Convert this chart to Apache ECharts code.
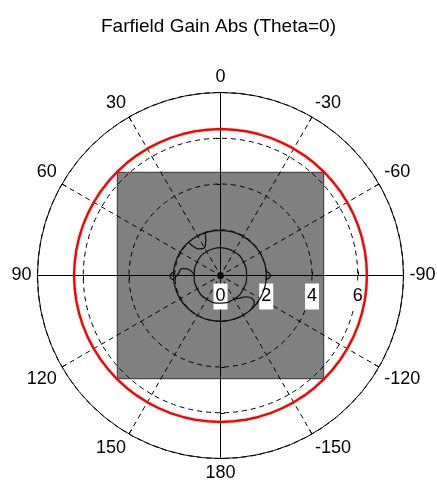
<!DOCTYPE html>
<html>
<head>
<meta charset="utf-8">
<script src="https://cdn.jsdelivr.net/npm/echarts@6/dist/echarts.min.js"></script>
<style>
  html, body { margin: 0; padding: 0; background: #fff; }
  #chart { width: 437px; height: 484px; }
</style>
</head>
<body>
<div id="chart"></div>
<script>
// Farfield polar plot: gain versus phi, 0 at the top, angles counted counter-clockwise.
const titleText = 'Farfield Gain Abs (Theta=0)';

// Angle axis ticks (degrees) and radius axis ticks (gain)
const angleTickStep = 30;
const radiusTicks = [0, 2, 4, 6, 8];

// Main gain trace (constant over phi), sampled every 5 degrees
const gainAngles = [0, 5, 10, 15, 20, 25, 30, 35, 40, 45, 50, 55, 60, 65, 70, 75, 80, 85, 90,
                    95, 100, 105, 110, 115, 120, 125, 130, 135, 140, 145, 150, 155, 160, 165, 170, 175, 180,
                    185, 190, 195, 200, 205, 210, 215, 220, 225, 230, 235, 240, 245, 250, 255, 260, 265, 270,
                    275, 280, 285, 290, 295, 300, 305, 310, 315, 320, 325, 330, 335, 340, 345, 350, 355, 360];
const gainValues = [6.4, 6.4, 6.4, 6.4, 6.4, 6.4, 6.4, 6.4, 6.4, 6.4, 6.4, 6.4, 6.4, 6.4, 6.4, 6.4, 6.4, 6.4, 6.4,
                    6.4, 6.4, 6.4, 6.4, 6.4, 6.4, 6.4, 6.4, 6.4, 6.4, 6.4, 6.4, 6.4, 6.4, 6.4, 6.4, 6.4, 6.4,
                    6.4, 6.4, 6.4, 6.4, 6.4, 6.4, 6.4, 6.4, 6.4, 6.4, 6.4, 6.4, 6.4, 6.4, 6.4, 6.4, 6.4, 6.4,
                    6.4, 6.4, 6.4, 6.4, 6.4, 6.4, 6.4, 6.4, 6.4, 6.4, 6.4, 6.4, 6.4, 6.4, 6.4, 6.4, 6.4, 6.4];

// Shaded square region (corner angles and corner radius)
const squareAngles = [45, 135, 225, 315, 45];
const squareRadius = [6.38, 6.38, 6.38, 6.38, 6.38];

// Inner trace
const innerAngles = [0, 30, 60, 90, 120, 150, 180, 210, 240, 270, 300, 330, 360];
const innerValues = [1.22, 1.21, 1.18, 1.15, 1.17, 1.2, 1.21, 1.19, 1.16, 1.14, 1.17, 1.2, 1.22];

// Outer ring trace
const ringAngles = [0, 15, 30, 45, 60, 75, 90, 105, 120, 135, 150, 165, 180,
                    195, 210, 225, 240, 255, 270, 285, 300, 315, 330, 345, 360];
const ringValues = [1.97, 1.98, 2.0, 2.02, 2.04, 2.05, 2.06, 2.05, 2.04, 2.03, 2.02, 2.01, 2.0,
                    2.0, 2.0, 2.0, 2.0, 2.0, 2.01, 2.0, 1.99, 1.98, 1.97, 1.97, 1.97];

// Side lobes / loops of the outer trace
const loopAAngles = [20, 22, 26, 32, 39, 43, 44];
const loopAValues = [2.0, 1.72, 1.5, 1.4, 1.5, 1.75, 2.02];
const loopBAngles = [93, 88, 80, 79, 83, 89];
const loopBValues = [2.02, 1.85, 1.72, 1.5, 1.25, 1.14];
const loopCAngles = [86, 88, 91, 94, 95];
const loopCValues = [2.05, 2.16, 2.2, 2.14, 2.05];
const loopDAngles = [265, 267, 270, 273, 275];
const loopDValues = [2.0, 2.12, 2.18, 2.12, 2.0];
const loopEAngles = [212, 220, 230, 234, 231, 223];
const loopEValues = [1.2, 1.3, 1.45, 1.7, 1.9, 1.98];
const centerAngles = [0, 60, 120, 180, 240, 300, 360];
const centerValues = [0.12, 0.12, 0.12, 0.12, 0.12, 0.12, 0.12];

const font = '"Liberation Sans", Arial, sans-serif';
const fontSize = 18;
const center = [220.5, 275.5];
const radius = 183;
const dash = [5, 4];

function pairs(angles, values) {
  return angles.map((a, i) => [values[i], a]);
}

function angleLabel(v) {
  if (v >= 360) return '';
  return String(v > 180 ? v - 360 : v);
}

const solidAxis = { show: true, lineStyle: { color: '#000', width: 1 } };
const radialTick = { show: true, length: 4, lineStyle: { color: '#000' } };

// Four radius axes make the full solid cross; the first polar holds all data
const startAngles = [90, 0, 180, 270];
const polar = startAngles.map(() => ({ center: center, radius: radius }));
const angleAxis = startAngles.map((s, i) => i === 0 ? {
  polarIndex: 0, type: 'value', min: 0, max: 360, interval: angleTickStep,
  startAngle: s, clockwise: false,
  axisLine: solidAxis,
  axisTick: { show: true, inside: true, length: 5, lineStyle: { color: '#000' } },
  axisLabel: { margin: 6, fontSize: fontSize, fontFamily: font, color: '#000', formatter: angleLabel },
  splitLine: { show: true, lineStyle: { color: '#000', width: 1, type: dash } }
} : {
  polarIndex: i, type: 'value', min: 0, max: 360, startAngle: s, show: false
});
const radiusAxis = startAngles.map((s, i) => ({
  polarIndex: i, type: 'value', min: radiusTicks[0], max: radiusTicks[radiusTicks.length - 1],
  interval: radiusTicks[1] - radiusTicks[0],
  axisLine: solidAxis,
  axisTick: radialTick,
  axisLabel: i === 1 ? {
    show: true, showMaxLabel: false, margin: -8, verticalAlign: 'top',
    fontSize: fontSize, fontFamily: font, color: '#000',
    backgroundColor: '#fff', padding: [4, 2], lineHeight: 18
  } : { show: false },
  splitLine: i === 0 ? { show: true, lineStyle: { color: '#000', width: 1, type: dash } } : { show: false },
  splitArea: { show: false }
}));

function trace(angles, values, extra) {
  return Object.assign({
    type: 'line', coordinateSystem: 'polar', polarIndex: 0,
    data: pairs(angles, values), symbol: 'none', silent: true,
    lineStyle: { color: '#111', width: 1.3 }, z: 4
  }, extra || {});
}

const series = [
  trace(squareAngles, squareRadius, {
    lineStyle: { color: '#333', width: 1 },
    areaStyle: { color: '#808080', opacity: 1 }, z: -1
  }),
  trace(gainAngles, gainValues, { lineStyle: { color: '#ff0000', width: 2.5 }, z: 5 }),
  trace(innerAngles, innerValues, { smooth: true }),
  trace(ringAngles, ringValues, { smooth: true }),
  trace(loopAAngles, loopAValues, { smooth: true }),
  trace(loopBAngles, loopBValues, { smooth: true }),
  trace(loopCAngles, loopCValues, { smooth: true }),
  trace(loopDAngles, loopDValues, { smooth: true }),
  trace(loopEAngles, loopEValues, { smooth: true }),
  trace(centerAngles, centerValues, { smooth: true, lineStyle: { color: '#000', width: 1.5 } })
];

const chart = echarts.init(document.getElementById('chart'), null, { renderer: 'canvas' });
chart.setOption({
  animation: false,
  backgroundColor: '#fff',
  title: {
    text: titleText, left: 'center', top: 12,
    textStyle: { fontFamily: font, fontSize: 19, fontWeight: 'normal', color: '#000' }
  },
  polar: polar,
  angleAxis: angleAxis,
  radiusAxis: radiusAxis,
  series: series
});
</script>
</body>
</html>
